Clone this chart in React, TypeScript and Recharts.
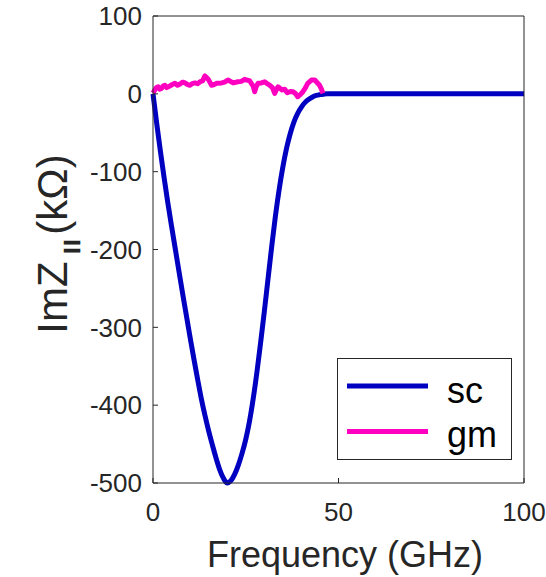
import React from "react";
import { LineChart, Line, XAxis, YAxis, Legend } from "recharts";

// sc: smooth impedance curve at 1 GHz steps
const SC_FREQ = [
  0, 1, 2, 3, 4, 5, 6, 7, 8, 9, 10, 11, 12, 13, 14, 15, 16, 17, 18, 19, 20,
  21, 22, 23, 24, 25, 26, 27, 28, 29, 30, 31, 32, 33, 34, 35, 36, 37, 38, 39,
  40, 41, 42, 43, 44, 45, 46, 47, 50, 60, 70, 80, 90, 100,
];
const SC_IMZ = [
  0, -38, -74, -108, -140, -170, -199, -228, -257, -285, -313, -340, -366, -391,
  -413, -433, -451, -468, -483, -494, -500, -497, -489, -477, -462, -444, -421,
  -392, -358, -320, -280, -238, -196, -157, -123, -94, -70, -51, -36, -25, -17,
  -11, -7, -4, -2, -1, -0.4, 0, 0, 0, 0, 0, 0, 0,
];

// gm: noisy measured curve, 0..46 GHz
const GM_FREQ = [
  0, 0.5, 0.9, 1.4, 1.8, 2.3, 2.7, 3.2, 3.7, 4.5, 5.2, 5.9, 6.6, 7.3, 8, 8.6,
  9.3, 9.9, 10.6, 11.3, 12, 12.7, 13.4, 14, 14.9, 15.8, 16.5, 17.2, 18.5, 19.3,
  20.2, 21.6, 22.9, 23.8, 24.7, 25.2, 26, 26.5, 27, 27.4, 27.8, 28.3, 29.2,
  30.1, 30.8, 31.5, 32.2, 32.8, 33.3, 33.7, 34.8, 35.5, 36.2, 37, 37.7, 38.3,
  39, 39.7, 40.4, 41, 41.7, 42.7, 43.6, 44.9, 45.4, 45.8,
];
const GM_IMZ = [
  1, 5, 8, 9, 6, 7, 10, 11, 8, 10, 12, 13.5, 11, 12.7, 15, 14, 12, 11, 13, 14,
  13, 15.5, 17, 23, 18.6, 11, 12, 13.5, 14, 15, 17.7, 14, 15.5, 16, 18.6, 17.7,
  17, 13.5, 10, 2.7, 9, 13.5, 14, 15.5, 13, 11, 8, 0.6, 6, 9, 5, 6, 1.4, 3, 2.7,
  1, -3.7, -1, 2.7, 7, 13.5, 17.7, 17.7, 11, 6, 0.6,
];

const X_TICKS = [0, 50, 100];
const Y_TICKS = [-500, -400, -300, -200, -100, 0, 100];
const LEGEND_ORDER = ["sc", "gm"];

const scData = SC_FREQ.map((f, i) => ({ f, v: SC_IMZ[i] }));
const gmData = GM_FREQ.map((f, i) => ({ f, v: GM_IMZ[i] }));

const FONT = "'Liberation Sans', Arial, Helvetica, sans-serif";
const INK = "#262626";
const tickStyle = { fontSize: 26, fontFamily: FONT, fill: INK };
const blank = () => "";

function LegendBox({ payload }: any) {
  const items = [...(payload || [])].sort(
    (a: any, b: any) => LEGEND_ORDER.indexOf(a.value) - LEGEND_ORDER.indexOf(b.value),
  );
  return (
    <svg width={175} height={102} style={{ display: "block" }}>
      <rect x={0.5} y={0.5} width={174} height={101} fill="#fff" stroke={INK} />
      {items.map((p: any, i: number) => (
        <g key={p.value}>
          <line x1={10} x2={91} y1={28 + i * 45.5} y2={28 + i * 45.5} stroke={p.color} strokeWidth={5} />
          <text x={110} y={45.3 + i * 43.5} fontSize={36} fontFamily={FONT} fill="#000">
            {p.value}
          </text>
        </g>
      ))}
    </svg>
  );
}

export default function App() {
  return (
    <div style={{ position: "absolute", left: 0, top: 0, width: 546, height: 577, background: "#fff" }}>
      <LineChart width={546} height={577} margin={{ top: 15, right: 21, bottom: 0, left: 0 }}>
        <XAxis
          dataKey="f"
          type="number"
          domain={[0, 100]}
          ticks={X_TICKS}
          height={94}
          tickSize={-5}
          tickMargin={25}
          tick={tickStyle}
          stroke={INK}
        />
        <XAxis
          xAxisId="top"
          orientation="top"
          dataKey="f"
          type="number"
          domain={[0, 100]}
          ticks={X_TICKS}
          height={1}
          tickSize={-5}
          tickFormatter={blank}
          stroke={INK}
        />
        <YAxis
          type="number"
          domain={[-500, 100]}
          ticks={Y_TICKS}
          width={153}
          tickSize={-5}
          tickMargin={16}
          tick={tickStyle}
          stroke={INK}
        />
        <YAxis
          yAxisId="right"
          orientation="right"
          type="number"
          domain={[-500, 100]}
          ticks={Y_TICKS}
          width={1}
          tickSize={-5}
          tickFormatter={blank}
          stroke={INK}
        />
        <Line
          data={scData}
          dataKey="v"
          name="sc"
          type="monotone"
          stroke="#0000c0"
          strokeWidth={5}
          dot={false}
          isAnimationActive={false}
        />
        <Line
          data={gmData}
          dataKey="v"
          name="gm"
          type="linear"
          stroke="#ff00c0"
          strokeWidth={5}
          strokeLinejoin="round"
          dot={false}
          isAnimationActive={false}
        />
        <Legend
          layout="vertical"
          align="center"
          verticalAlign="middle"
          content={LegendBox}
          wrapperStyle={{ left: 337, top: 358, width: 175, height: 102 }}
        />
        <text x={345} y={567} textAnchor="middle" fontSize={36} fontFamily={FONT} fill={INK}>
          Frequency (GHz)
        </text>
        <text
          transform="translate(67,244) rotate(-90)"
          textAnchor="middle"
          fontSize={42}
          fontFamily={FONT}
          fill={INK}
        >
          ImZ
          <tspan fontSize={15} dx={9} dy={9} stroke={INK} strokeWidth={2.5}>|</tspan>
          <tspan fontSize={15} dx={4} stroke={INK} strokeWidth={2.5}>|</tspan>
          <tspan dx={6} dy={-9}>(kΩ)</tspan>
        </text>
      </LineChart>
    </div>
  );
}
